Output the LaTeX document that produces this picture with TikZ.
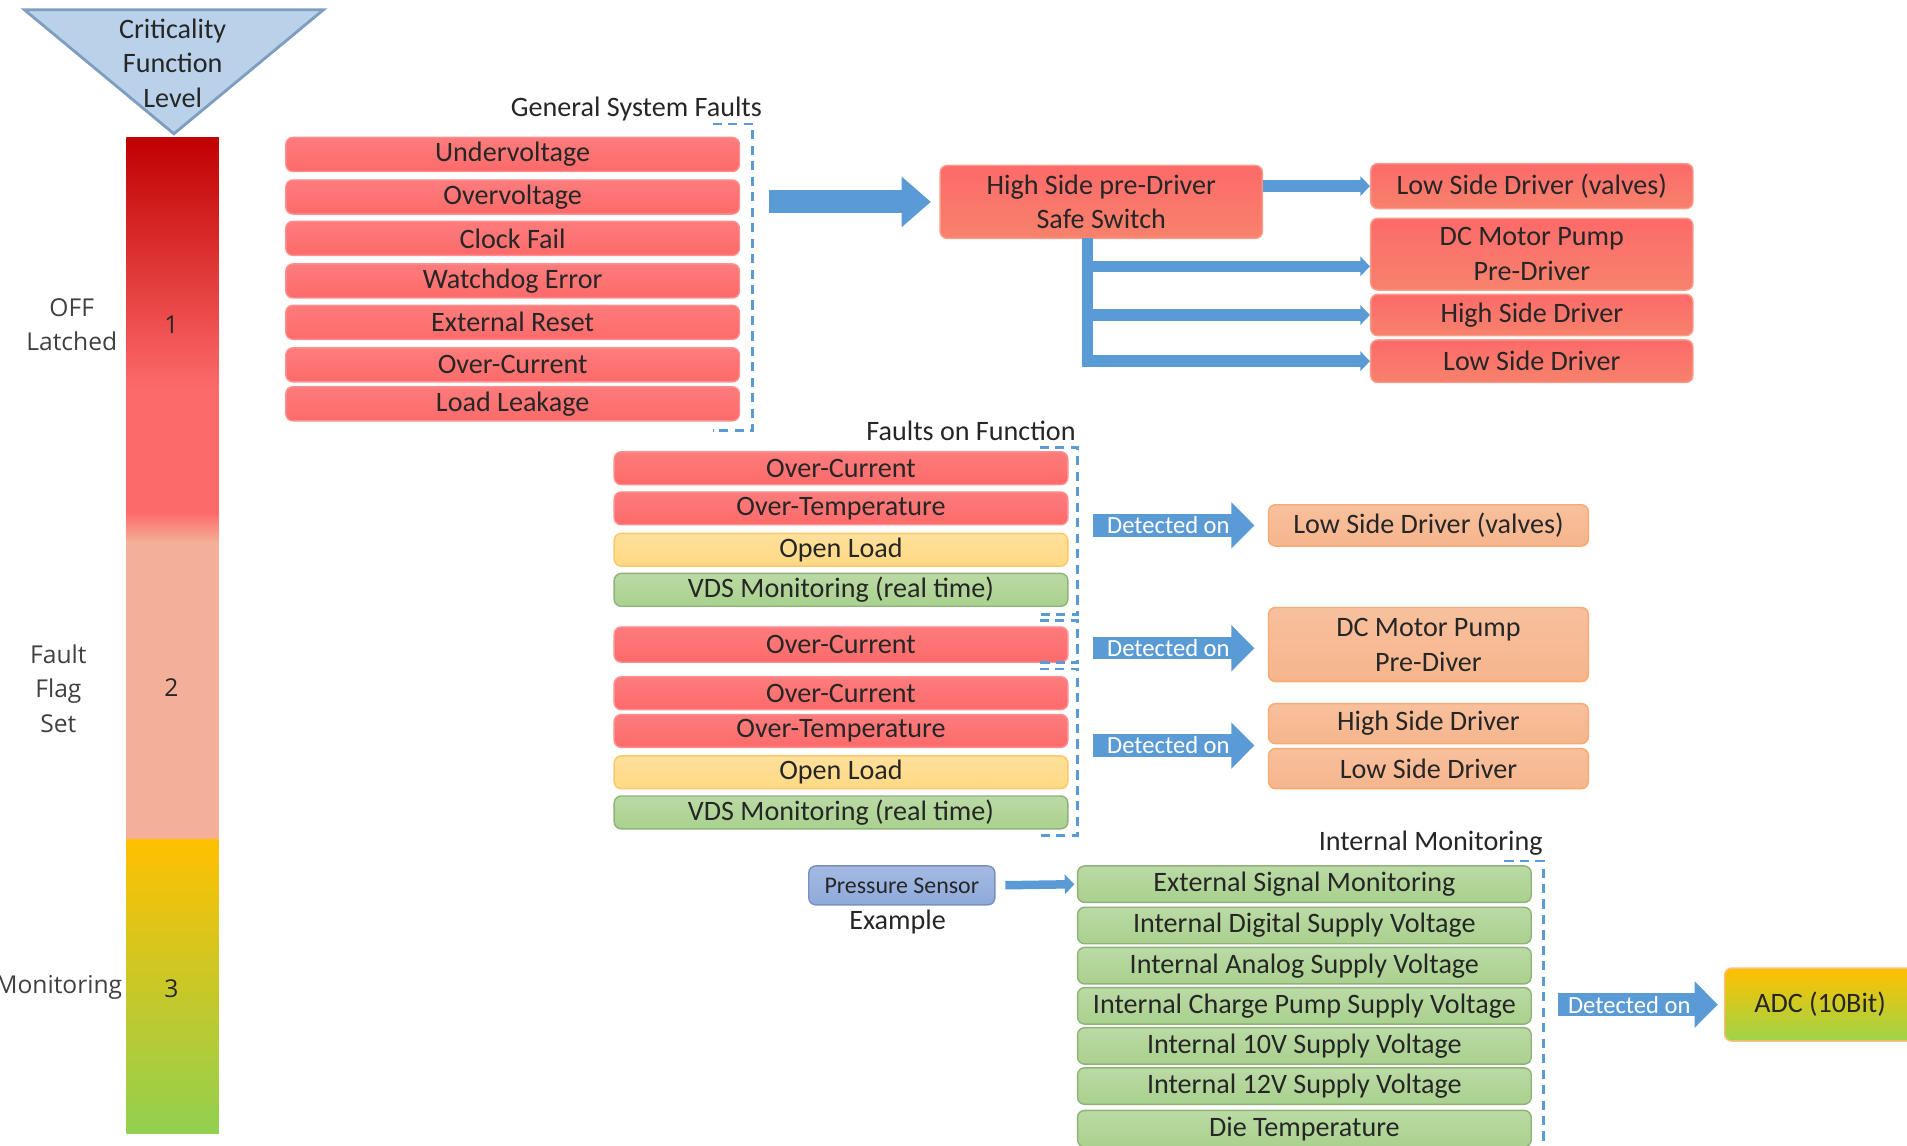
\documentclass[tikz,border=0pt]{standalone}
\usepackage{fontspec}
\setmainfont{Carlito}
\newfontfamily\sidefont{Open Sans}
\usetikzlibrary{arrows.meta,calc}

\definecolor{boxred}{HTML}{FD6A6A}
\definecolor{driverred}{HTML}{F7826C}
\definecolor{boxyellow}{HTML}{FFD983}
\definecolor{boxgreen}{HTML}{A9D18E}
\definecolor{boxsalmon}{HTML}{F6B58C}
\definecolor{arrowblue}{HTML}{5B9BD5}
\definecolor{tribg}{HTML}{BAD1EA}
\definecolor{triline}{HTML}{7F9DC1}
\definecolor{sensorblue}{HTML}{8EA9DB}
\definecolor{textdark}{HTML}{262626}
\definecolor{textgrey}{HTML}{404040}
\definecolor{bardark}{HTML}{C00000}
\definecolor{barsalmon}{HTML}{F3AF97}
\definecolor{baryellow}{HTML}{FFC000}
\definecolor{bargreen}{HTML}{92D050}

\newcommand{\pu}{0.012162cm}

\tikzset{
	fault/.style={rounded corners=2pt, minimum width=373*\pu, minimum height=28*\pu, inner sep=0pt, text=textdark, font=\fontsize{8}{9.6}\selectfont, line width=0.4pt},
	redfault/.style={fault, top color=boxred!88!white, bottom color=boxred, draw=boxred!75!white},
	yellowfault/.style={fault, top color=boxyellow!80!white, bottom color=boxyellow, draw=boxyellow!80!orange},
	greenfault/.style={fault, top color=boxgreen!80!white, bottom color=boxgreen, draw=boxgreen!85!black},
	driverbox/.style={fault, minimum width=265*\pu, align=center, font=\fontsize{8}{9.9}\selectfont, top color=boxred, bottom color=driverred, draw=driverred!80!white},
	salmonbox/.style={fault, minimum width=263*\pu, align=center, font=\fontsize{8}{9.9}\selectfont, top color=boxsalmon!85!white, bottom color=boxsalmon, draw=boxsalmon!80!orange},
	sectiontitle/.style={anchor=east, inner sep=0pt, text=textdark, font=\fontsize{8}{9.6}\selectfont},
	sidelabel/.style={align=center, inner sep=0pt, text=textgrey, font=\sidefont\fontsize{7}{9.8}\selectfont},
	bracket/.style={arrowblue, line width=0.8pt, dash pattern=on 2.6pt off 1.8pt},
	bigarrow/.style={arrowblue, line width=0.231cm, -{Triangle[width=0.486cm, length=0.292cm]}},
	detarrow/.style={arrowblue, line width=0.225cm, -{Triangle[width=0.45cm, length=0.231cm]}},
	thinarrow/.style={arrowblue, line width=0.1155cm, -{Triangle[width=0.195cm, length=0.097cm]}},
	detlabel/.style={text=white, inner sep=0pt, font=\fontsize{7}{8}\selectfont}
}

\begin{document}
\begin{tikzpicture}[x=0.012162cm, y=-0.012162cm]

	\useasboundingbox (0,0) rectangle (1568,942);
	\clip (0,0) rectangle (1568,942);

	\draw[fill=tribg, draw=triline, line width=0.8pt] (20,8) -- (266,8) -- (143,110) -- cycle;
	\node[align=center, inner sep=0pt, text=textdark, font=\fontsize{8}{9.8}\selectfont] (critlevel) at (142,52) {Criticality\\Function\\Level};

	\shade[top color=bardark, bottom color=boxred] (104,113) rectangle (180,320);
	\fill[boxred] (104,319) rectangle (180,422);
	\shade[top color=boxred, bottom color=barsalmon] (104,421) rectangle (180,446);
	\fill[barsalmon] (104,445) rectangle (180,691);
	\shade[top color=baryellow, bottom color=bargreen] (104,690) rectangle (180,932);

	\node[sidelabel, text=textdark] (lvlone) at (141,267) {1};
	\node[sidelabel, text=textdark] (lvltwo) at (141,565) {2};
	\node[sidelabel, text=textdark] (lvlthree) at (141,813) {3};

	\node[sidelabel] (offlatched) at (59,267) {OFF\\Latched};
	\node[sidelabel] (faultflag) at (48,566) {Fault\\Flag\\Set};
	\node[sidelabel, anchor=east] (monitoring) at (101,812) {Monitoring};

	\node[sectiontitle] (gsftitle) at (627,90) {General System Faults};
	\node[redfault] (undervolt) at (421.5,127) {Undervoltage};
	\node[redfault] (overvolt) at (421.5,162) {Overvoltage};
	\node[redfault] (clockfail) at (421.5,196) {Clock Fail};
	\node[redfault] (watchdog) at (421.5,231) {Watchdog Error};
	\node[redfault] (extreset) at (421.5,265) {External Reset};
	\node[redfault] (gsfcurrent) at (421.5,300) {Over-Current};
	\node[redfault] (leakage) at (421.5,332) {Load Leakage};
	\draw[bracket] (586,102) -- (619,102) -- (619,354) -- (586,354);

	\node[driverbox, minimum height=60*\pu] (hspredrv) at (905.5,166) {High Side pre-Driver\\Safe Switch};
	\node[driverbox, minimum height=37*\pu] (rvalves) at (1259.5,153) {Low Side Driver (valves)};
	\node[driverbox, minimum height=59*\pu] (rpump) at (1259.5,209) {DC Motor Pump\\Pre-Driver};
	\node[driverbox, minimum height=34*\pu] (rhigh) at (1259.5,259) {High Side Driver};
	\node[driverbox, minimum height=35*\pu] (rlow) at (1259.5,297) {Low Side Driver};

	\coordinate (gsfout) at (632,166);
	\coordinate (trunk) at (894,196);
	\draw[bigarrow, shorten >=7*\pu] (gsfout) -- (hspredrv.west);
	\draw[thinarrow] (hspredrv.east |- rvalves.west) -- (rvalves.west);
	\draw[thinarrow] (trunk) |- ($(rpump.west)+(0,10)$);
	\draw[thinarrow] (trunk) |- (rhigh.west);
	\draw[thinarrow] (trunk) |- (rlow.west);

	\node[sectiontitle] (foftitle) at (885,354) {Faults on Function};
	\node[redfault, minimum height=27*\pu] (valvecurrent) at (691.5,385) {Over-Current};
	\node[redfault, minimum height=27*\pu] (valvetemp) at (691.5,418) {Over-Temperature};
	\node[yellowfault, minimum height=27*\pu] (valveopen) at (691.5,452) {Open Load};
	\node[greenfault, minimum height=27*\pu] (valvevds) at (691.5,485) {VDS Monitoring (real time)};
	\node[redfault, minimum height=29*\pu] (pumpcurrent) at (691.5,530) {Over-Current};
	\node[redfault, minimum height=27*\pu] (drvcurrent) at (691.5,570) {Over-Current};
	\node[redfault, minimum height=27*\pu] (drvtemp) at (691.5,601) {Over-Temperature};
	\node[yellowfault, minimum height=27*\pu] (drvopen) at (691.5,635) {Open Load};
	\node[greenfault, minimum height=27*\pu] (drvvds) at (691.5,668) {VDS Monitoring (real time)};
	\draw[bracket] (855,368) -- (886,368) -- (886,505) -- (855,505);
	\draw[bracket] (855,510) -- (886,510) -- (886,545) -- (855,545);
	\draw[bracket] (855,550) -- (886,550) -- (886,687) -- (855,687);

	\node[salmonbox, minimum height=34*\pu] (fvalves) at (1174.5,432) {Low Side Driver (valves)};
	\node[salmonbox, minimum height=61*\pu] (fpump) at (1174.5,530) {DC Motor Pump\\Pre-Diver};
	\node[salmonbox, minimum height=33*\pu] (fhigh) at (1174.5,595) {High Side Driver};
	\node[salmonbox, minimum height=33*\pu] (flow) at (1174.5,632) {Low Side Driver};

	\coordinate (detvalves) at (899,432);
	\coordinate (detpump) at (899,533);
	\coordinate (detdrivers) at (899,613);
	\draw[detarrow, shorten >=11*\pu] (detvalves) -- node[detlabel, pos=0.43] (detvalveslbl) {Detected on} (detvalves -| fvalves.west);
	\draw[detarrow, shorten >=11*\pu] (detpump) -- node[detlabel, pos=0.43] (detpumplbl) {Detected on} (detpump -| fpump.west);
	\draw[detarrow, shorten >=11*\pu] (detdrivers) -- node[detlabel, pos=0.43] (detdriverslbl) {Detected on} (detdrivers -| fhigh.west);

	\node[sectiontitle] (imtitle) at (1269,693) {Internal Monitoring};
	\node[greenfault, minimum height=30*\pu] (extsignal) at (1072.5,727) {External Signal Monitoring};
	\node[greenfault, minimum height=30*\pu] (digsupply) at (1072.5,761) {Internal Digital Supply Voltage};
	\node[greenfault, minimum height=30*\pu] (anasupply) at (1072.5,794) {Internal Analog Supply Voltage};
	\node[greenfault, minimum height=30*\pu] (cpsupply) at (1072.5,827) {Internal Charge Pump Supply Voltage};
	\node[greenfault, minimum height=30*\pu] (tensupply) at (1072.5,860) {Internal 10V Supply Voltage};
	\node[greenfault, minimum height=30*\pu] (twelvesupply) at (1072.5,893) {Internal 12V Supply Voltage};
	\node[greenfault, minimum height=30*\pu] (dietemp) at (1072.5,928) {Die Temperature};
	\draw[bracket] (1237,708) -- (1269,708) -- (1269,950);

	\node[fault, minimum width=153*\pu, minimum height=32*\pu, top color=sensorblue!80!white, bottom color=sensorblue, draw=sensorblue!85!black, font=\fontsize{6.8}{8}\selectfont] (psensor) at (741.5,728) {Pressure Sensor};
	\node[inner sep=0pt, text=textdark, font=\fontsize{8}{9.6}\selectfont] (psexample) at (738,758) {Example};
	\draw[thinarrow, line width=0.085cm, shorten <=8*\pu, shorten >=2*\pu] (psensor.east) -- (extsignal.west);

	\node[fault, minimum width=157*\pu, minimum height=60*\pu, top color=baryellow, bottom color=bargreen!90!yellow, draw=orange!50] (adc) at (1496.5,826) {ADC (10Bit)};
	\coordinate (detadc) at (1281,826);
	\draw[detarrow, shorten >=5*\pu] (detadc) -- node[detlabel, pos=0.43] (detadclbl) {Detected on} (adc.west);

\end{tikzpicture}
\end{document}
